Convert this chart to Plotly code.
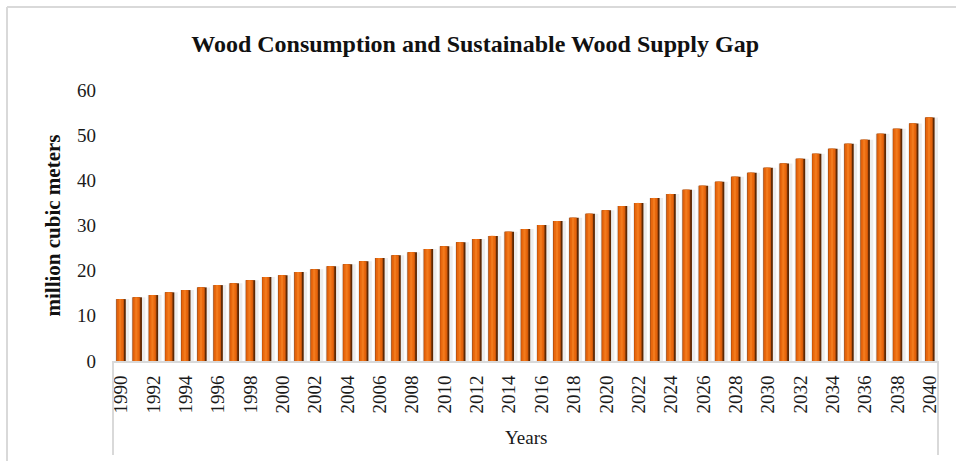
import plotly.graph_objects as go

years = list(range(1990, 2041))
consumption = [13.7, 14.1, 14.6, 15.2, 15.7, 16.3, 16.8, 17.2, 17.9, 18.6,
               19.0, 19.7, 20.3, 21.0, 21.4, 22.1, 22.8, 23.4, 24.1, 24.8,
               25.4, 26.3, 27.0, 27.7, 28.6, 29.2, 30.1, 31.0, 31.7, 32.6,
               33.4, 34.3, 35.0, 36.1, 37.0, 37.9, 38.8, 39.7, 40.8, 41.7,
               42.8, 43.7, 44.8, 45.9, 47.0, 48.1, 49.0, 50.3, 51.4, 52.6,
               53.9]
tick_years = list(range(1990, 2041, 2))
y_ticks = [0, 10, 20, 30, 40, 50, 60]

title_text = "<b>Wood Consumption and Sustainable Wood Supply Gap</b>"
y_title = "<b>million cubic meters</b>"
x_title = "Years"

FONT = "Liberation Serif, Times New Roman, serif"
W, H = 956, 461
L, R, T, B = 113, 18, 90, 100

fig = go.Figure()
# soft shadow
fig.add_trace(go.Bar(x=years, y=consumption, width=0.86, offset=-0.36,
                     marker=dict(color="rgba(0,0,0,0.075)", line=dict(width=0)),
                     hoverinfo="skip"))
# dark edge
fig.add_trace(go.Bar(x=years, y=consumption, width=0.58, offset=-0.29,
                     marker=dict(color="#5E2803", line=dict(width=0)),
                     hoverinfo="skip"))
# left darker body
fig.add_trace(go.Bar(x=years, y=consumption, width=0.47, offset=-0.29,
                     marker=dict(color="#C9560A", line=dict(width=0)),
                     hoverinfo="skip"))
# main body
fig.add_trace(go.Bar(x=years, y=consumption, width=0.36, offset=-0.24,
                     marker=dict(color="#E8670D", line=dict(width=0)),
                     hoverinfo="skip"))
# highlight
fig.add_trace(go.Bar(x=years, y=consumption, width=0.14, offset=-0.13,
                     marker=dict(color="#F27A1C", line=dict(width=0)),
                     name="Wood consumption"))

border = "#D9D9D9"
shapes = [
    # outer chart border (left and top)
    dict(type="line", xref="paper", yref="paper",
         x0=(7 - L) / (W - L - R), x1=(W + 20 - L) / (W - L - R),
         y0=(H - B - 7) / (H - T - B), y1=(H - B - 7) / (H - T - B),
         line=dict(color=border, width=2)),
    dict(type="line", xref="paper", yref="paper",
         x0=(7 - L) / (W - L - R), x1=(7 - L) / (W - L - R),
         y0=(H - B - 7) / (H - T - B), y1=(H - B - H - 20) / (H - T - B),
         line=dict(color=border, width=2)),
    # category axis dividers
    dict(type="line", xref="paper", yref="paper", x0=0, x1=0,
         y0=0, y1=-(455 - (H - B)) / (H - T - B),
         line=dict(color=border, width=2)),
    dict(type="line", xref="paper", yref="paper", x0=1, x1=1,
         y0=0, y1=-(455 - (H - B)) / (H - T - B),
         line=dict(color=border, width=2)),
]

fig.update_layout(
    width=W, height=H,
    margin=dict(l=L, r=R, t=T, b=B, pad=0),
    paper_bgcolor="white", plot_bgcolor="white",
    barmode="overlay", showlegend=False,
    font=dict(family=FONT, color="#1a1a1a", size=18),
    title=dict(text=title_text, x=0.497, xanchor="center", y=1 - 44 / H,
               yanchor="middle", font=dict(family=FONT, size=24, color="#111")),
    shapes=shapes,
    annotations=[dict(text=x_title, xref="paper", yref="paper", x=0.5,
                      y=-(437 - (H - B)) / (H - T - B), xanchor="center",
                      yanchor="middle", showarrow=False,
                      font=dict(family=FONT, size=19, color="#1a1a1a"))],
)
fig.update_xaxes(range=[1989.5, 2040.5], tickmode="array", tickvals=tick_years,
                 ticktext=[str(v) for v in tick_years], tickangle=-90,
                 showgrid=False, zeroline=False, showline=True,
                 linecolor=border, linewidth=2, ticks="",
                 ticklabelstandoff=5,
                 tickfont=dict(family=FONT, size=19, color="#1a1a1a"))
fig.update_yaxes(range=[0, 60], tickmode="array", tickvals=y_ticks,
                 showgrid=False, zeroline=False, showline=False, ticks="",
                 ticklabelstandoff=16,
                 tickfont=dict(family=FONT, size=19, color="#1a1a1a"),
                 title=dict(text=y_title, standoff=10,
                            font=dict(family=FONT, size=21, color="#111")))

fig.write_html("out.html")
